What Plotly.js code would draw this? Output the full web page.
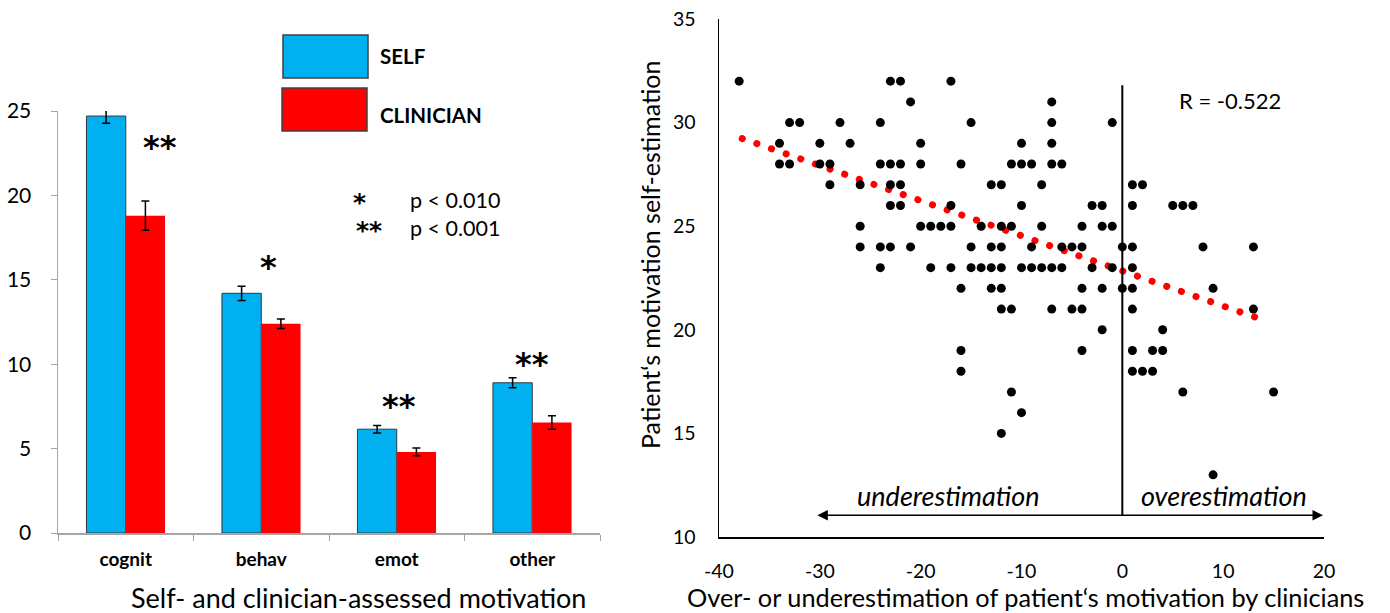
<!DOCTYPE html>
<html><head><meta charset="utf-8">
<script src="https://cdn.plot.ly/plotly-3.0.1.min.js"></script>
<style>
html,body{margin:0;padding:0;background:#fff;}
#chart{width:1390px;height:613px;}
.scatterlayer .trace .js-line{stroke-linecap:round !important;}
</style></head><body><div id="chart"></div>
<script>
// ---- Bar chart data ----
const categories = ['cognit', 'behav', 'emot', 'other'];
const selfValues = [24.7, 14.2, 6.15, 8.9];
const selfErrors = [0.42, 0.42, 0.22, 0.29];
const clinicianValues = [18.8, 12.4, 4.8, 6.55];
const clinicianErrors = [0.87, 0.28, 0.23, 0.40];
const significanceMarks = ['**', '*', '**', '**'];
const significanceY = [23.1, 16.0, 7.75, 10.25];
const significanceX = [0.25, 1.05, 2.02, 3.0];
const pKeyMarks = ['*', '**'];
const pKeyLabels = ['p < 0.010', 'p < 0.001'];

// ---- Scatter data (x = clinician minus self, y = self-estimation) ----
const deviationX = [
  -38, -23, -22, -17,
  -21, -7,
  -33, -32, -28, -24, -15, -7, -1,
  -34, -30, -27, -20, -10, -7,
  -34, -33, -30, -29, -24, -23, -22, -20, -16, -11, -10, -9, -7, -6,
  -29, -26, -23, -22, -13, -12, -8, 1, 2,
  -23, -22, -17, -10, -3, -2, 1, 5, 6, 7,
  -26, -20, -19, -18, -17, -14, -12, -11, -8, -4, -2, -1,
  -26, -24, -23, -21, -15, -13, -12, -9, -6, -5, -4, 0, 1, 8, 13,
  -24, -19, -17, -15, -14, -13, -12, -10, -9, -8, -7, -6, -3, -1, 1,
  -16, -13, -12, -4, -2, 0, 1, 9,
  -12, -11, -7, -5, -4, 1, 13,
  -2, 4,
  -16, -4, 1, 3, 4,
  -16, 1, 2, 3,
  -11, 6, 15,
  -10,
  -12,
  9
];
const selfEstimationY = [
  32, 32, 32, 32,
  31, 31,
  30, 30, 30, 30, 30, 30, 30,
  29, 29, 29, 29, 29, 29,
  28, 28, 28, 28, 28, 28, 28, 28, 28, 28, 28, 28, 28, 28,
  27, 27, 27, 27, 27, 27, 27, 27, 27,
  26, 26, 26, 26, 26, 26, 26, 26, 26, 26,
  25, 25, 25, 25, 25, 25, 25, 25, 25, 25, 25, 25,
  24, 24, 24, 24, 24, 24, 24, 24, 24, 24, 24, 24, 24, 24, 24,
  23, 23, 23, 23, 23, 23, 23, 23, 23, 23, 23, 23, 23, 23, 23,
  22, 22, 22, 22, 22, 22, 22, 22,
  21, 21, 21, 21, 21, 21, 21,
  20, 20,
  19, 19, 19, 19, 19,
  18, 18, 18, 18,
  17, 17, 17,
  16,
  15,
  13
];
const trendX = [-37.7, 14.3];
const trendY = [29.23, 20.42];
const correlationLabel = 'R = -0.522';
const scatterXTickVals = [-40, -30, -20, -10, 0, 10, 20];
const scatterXTickText = ['-40', '-30', '-20', '-10', '0', '10', '20'];

const FONT = 'Lato, "Open Sans", sans-serif';
const STAR_FONT = '"DejaVu Sans", sans-serif';
const AXIS_GRAY = '#a6a6a6';

const traces = [
  {
    type: 'bar', name: 'SELF', x: categories, y: selfValues,
    xaxis: 'x', yaxis: 'y',
    marker: {color: '#00b0f0', line: {color: '#2b3a42', width: 1}},
    error_y: {type: 'data', array: selfErrors, color: '#000', thickness: 1.5, width: 4},
    showlegend: false, hoverinfo: 'x+y'
  },
  {
    type: 'bar', name: 'CLINICIAN', x: categories, y: clinicianValues,
    xaxis: 'x', yaxis: 'y',
    marker: {color: '#ff0000', line: {color: '#ff0000', width: 0}},
    error_y: {type: 'data', array: clinicianErrors, color: '#000', thickness: 1.5, width: 4},
    showlegend: false, hoverinfo: 'x+y'
  },
  {
    type: 'scatter', mode: 'lines', x: trendX, y: trendY,
    xaxis: 'x2', yaxis: 'y2',
    line: {color: '#ff0000', width: 7, dash: '0.1px,15.4px'},
    showlegend: false, hoverinfo: 'skip'
  },
  {
    type: 'scatter', mode: 'markers', x: deviationX, y: selfEstimationY,
    xaxis: 'x2', yaxis: 'y2',
    marker: {color: '#000', size: 9},
    showlegend: false
  }
];

const annotations = [];
// significance stars over bars
significanceMarks.forEach((m, i) => {
  annotations.push({
    xref: 'x', yref: 'y', x: significanceX[i], y: significanceY[i], yshift: -4,
    text: m, showarrow: false, xanchor: 'center', yanchor: 'middle',
    font: {family: STAR_FONT, size: 32, weight: 'bold', color: '#000'}
  });
});
// legend labels
annotations.push({xref: 'paper', yref: 'paper', x: 378 / 1390, y: 1 - 56 / 613, xanchor: 'left', yanchor: 'middle',
  text: 'SELF', showarrow: false, font: {family: FONT, size: 20.5, weight: 'bold', color: '#000'}});
annotations.push({xref: 'paper', yref: 'paper', x: 378 / 1390, y: 1 - 115 / 613, xanchor: 'left', yanchor: 'middle',
  text: 'CLINICIAN', showarrow: false, font: {family: FONT, size: 20.5, weight: 'bold', color: '#000'}});
// p-value key stars
annotations.push({xref: 'paper', yref: 'paper', x: 359 / 1390, y: 1 - 199 / 613, xanchor: 'center', yanchor: 'middle',
  yshift: -3, text: pKeyMarks[0], showarrow: false,
  font: {family: STAR_FONT, size: 25, weight: 'bold', color: '#000'}});
annotations.push({xref: 'paper', yref: 'paper', x: 369 / 1390, y: 1 - 228 / 613, xanchor: 'center', yanchor: 'middle',
  yshift: -3, text: pKeyMarks[1], showarrow: false,
  font: {family: STAR_FONT, size: 25, weight: 'bold', color: '#000'}});
// p-value key labels
annotations.push({xref: 'paper', yref: 'paper', x: 408 / 1390, y: 1 - 214.5 / 613, xanchor: 'left', yanchor: 'middle',
  align: 'left',
  text: pKeyLabels.join('<br>'), showarrow: false, font: {family: FONT, size: 21.5, color: '#000'}});
// axis titles
annotations.push({xref: 'paper', yref: 'paper', x: 358 / 1390, y: 1 - 597 / 613, xanchor: 'center', yanchor: 'middle',
  text: 'Self- and clinician-assessed motivation', showarrow: false, font: {family: FONT, size: 27, color: '#000'}});
annotations.push({xref: 'paper', yref: 'paper', x: 1025 / 1390, y: 1 - 597 / 613, xanchor: 'center', yanchor: 'middle',
  text: 'Over- or underestimation of patient‘s motivation by clinicians', showarrow: false, font: {family: FONT, size: 25.3, color: '#000'}});
annotations.push({xref: 'paper', yref: 'paper', x: 650 / 1390, y: 1 - 255 / 613, xanchor: 'center', yanchor: 'middle', textangle: -90,
  text: 'Patient‘s motivation self-estimation', showarrow: false, font: {family: FONT, size: 25, color: '#000'}});
// scatter texts
annotations.push({xref: 'x2', yref: 'y2', x: 10.7, y: 31.05, xanchor: 'center', yanchor: 'middle',
  text: correlationLabel, showarrow: false, font: {family: FONT, size: 22, color: '#000'}});
annotations.push({xref: 'x2', yref: 'y2', x: -17.2, y: 12.0, xanchor: 'center', yanchor: 'middle',
  text: '<i>underestimation</i>', showarrow: false, font: {family: FONT, size: 27, color: '#000', style: 'italic'}});
annotations.push({xref: 'x2', yref: 'y2', x: 10.1, y: 12.0, xanchor: 'center', yanchor: 'middle',
  text: '<i>overestimation</i>', showarrow: false, font: {family: FONT, size: 27, color: '#000', style: 'italic'}});
// double-headed arrow
annotations.push({xref: 'x2', yref: 'y2', axref: 'x2', ayref: 'y2',
  x: 19.9, y: 11.05, ax: -30.4, ay: 11.05, text: '', showarrow: true,
  arrowhead: 2, startarrowhead: 2, arrowside: 'end+start', arrowsize: 1.4, startarrowsize: 1.4,
  arrowwidth: 1.5, arrowcolor: '#000'});

const shapes = [
  // legend boxes
  {type: 'rect', xref: 'paper', yref: 'paper', x0: 283 / 1390, x1: 368 / 1390, y0: 1 - 78 / 613, y1: 1 - 35 / 613,
    fillcolor: '#00b0f0', line: {color: '#404040', width: 1.5}},
  {type: 'rect', xref: 'paper', yref: 'paper', x0: 282 / 1390, x1: 367 / 1390, y0: 1 - 131 / 613, y1: 1 - 88 / 613,
    fillcolor: '#ff0000', line: {color: '#404040', width: 1.5}},
  // vertical zero line in scatter
  {type: 'line', xref: 'x2', yref: 'y2', x0: 0, x1: 0, y0: 11.05, y1: 31.8, line: {color: '#000', width: 2}}
];

const layout = {
  width: 1390, height: 613,
  margin: {l: 0, r: 0, t: 0, b: 0},
  paper_bgcolor: '#fff', plot_bgcolor: '#fff',
  font: {family: FONT, color: '#000'},
  barmode: 'group', bargap: 0.42, bargroupgap: 0,
  showlegend: false,
  xaxis: {
    domain: [58 / 1390, 600 / 1390], anchor: 'y', type: 'category',
    range: [-0.5, 3.5], tickson: 'boundaries', ticks: 'outside', ticklen: 6, tickcolor: AXIS_GRAY,
    showline: true, linecolor: AXIS_GRAY, linewidth: 1.5, showgrid: false, zeroline: false,
    tickfont: {family: FONT, size: 19, weight: 'bold', color: '#000'}, ticklabelstandoff: 9
  },
  yaxis: {
    domain: [1 - 533 / 613, 1 - 111 / 613], anchor: 'x',
    range: [0, 25], dtick: 5, ticks: 'outside', ticklen: 6, tickcolor: AXIS_GRAY,
    showline: true, linecolor: AXIS_GRAY, linewidth: 1.5, showgrid: false, zeroline: false,
    tickfont: {family: FONT, size: 21, color: '#000'}, ticklabelstandoff: 15
  },
  xaxis2: {
    domain: [719 / 1390, 1324 / 1390], anchor: 'y2',
    range: [-40, 20], tickmode: 'array', tickvals: scatterXTickVals, ticktext: scatterXTickText,
    ticks: '', showline: true, linecolor: '#000', linewidth: 1.5,
    showgrid: false, zeroline: false,
    tickfont: {family: FONT, size: 19.5, color: '#000'}, ticklabelstandoff: 16
  },
  yaxis2: {
    domain: [1 - 537 / 613, 1 - 19 / 613], anchor: 'x2',
    range: [10, 35], dtick: 5, ticks: '', showline: true, linecolor: '#000', linewidth: 1.5,
    showgrid: false, zeroline: false,
    tickfont: {family: FONT, size: 19.5, color: '#000'}, ticklabelstandoff: 18
  },
  annotations: annotations,
  shapes: shapes
};

Plotly.newPlot('chart', traces, layout, {staticPlot: true, displayModeBar: false});
</script></body></html>
